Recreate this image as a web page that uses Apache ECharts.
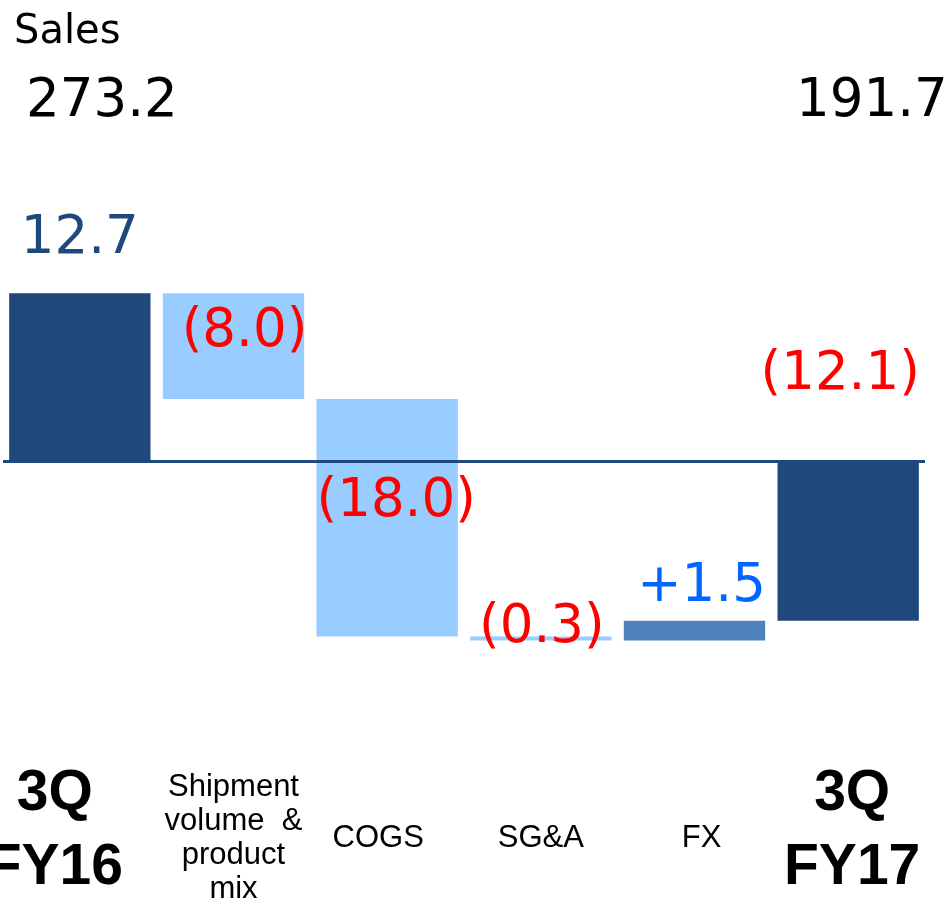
<!DOCTYPE html>
<html>
<head>
<meta charset="utf-8">
<script src="https://cdn.jsdelivr.net/npm/echarts@6/dist/echarts.min.js"></script>
<style>
  html, body { margin: 0; padding: 0; background: #fff; }
  #chart { width: 951px; height: 905px; }
</style>
</head>
<body>
<div id="chart"></div>
<script>
// waterfall: sales bridge 3Q FY16 -> 3Q FY17
var categories = ['3Q\nFY16', 'Shipment\nvolume  &\nproduct\nmix', 'COGS', 'SG&A', 'FX', '3Q\nFY17']
var deltas = [12.7, -8.0, -18.0, -0.3, 1.5, -12.1]
var isTotal = [true, false, false, false, false, true]
var barLabels = ['12.7', '(8.0)', '(18.0)', '(0.3)', '+1.5', '(12.1)']
var salesStart = '273.2'
var salesEnd = '191.7'

var navy = '#1f497d'
var light = '#99ccff'
var mid = '#4f81bd'

// bases for the invisible stack part
var bases = []
var running = 0
for (var i = 0; i < deltas.length; i++) {
  if (isTotal[i]) {
    bases.push(0)
    running = deltas[i]
  } else {
    bases.push(running)
    running = running + deltas[i]
  }
}

var barColors = [navy, light, light, light, mid, navy]
var labelColors = [navy, '#ff0000', '#ff0000', '#ff0000', '#0066ff', '#ff0000']
var labelOffsets = [[0, -138], [11, -14], [9, -16], [1, -10], [7, -43], [-8, -166]]
var axisStyles = ['totL', 'mid', 'midL', 'mid', 'midR', 'tot']

var visibleData = deltas.map(function (v, i) {
  return {
    value: v,
    itemStyle: { color: barColors[i] },
    label: {
      show: true,
      position: 'inside',
      offset: labelOffsets[i],
      formatter: barLabels[i],
      color: labelColors[i]
    }
  }
})

var chart = echarts.init(document.getElementById('chart'))
chart.setOption({
  animation: false,
  grid: { left: 3, right: 26, top: 197, bottom: 180, containLabel: false, outerBoundsMode: 'none' },
  xAxis: {
    type: 'category',
    data: categories,
    position: 'bottom',
    axisLine: { show: false, onZero: false },
    axisTick: { show: false },
    axisLabel: {
      margin: 113,
      verticalAlign: 'middle',
      interval: 0,
      hideOverlap: false,
      formatter: function (val, idx) {
        var st = axisStyles[idx]
        var text = val.split('\n').map(function (s) { return '{' + st + '|' + s + '}' }).join('\n')
        if (st === 'tot' || st === 'totL') text += '\n{gap| }'
        return text
      },
      rich: {
        tot: { fontFamily: 'Liberation Sans', fontWeight: 'bold', fontSize: 57, lineHeight: 74, color: '#000', align: 'center', padding: [0, 0, 0, 8] },
        totL: { fontFamily: 'Liberation Sans', fontWeight: 'bold', fontSize: 57, lineHeight: 74, color: '#000', align: 'center', padding: [0, 50, 0, 0] },
        gap: { fontSize: 10, lineHeight: 14 },
        mid: { fontFamily: 'Liberation Sans', fontSize: 31, lineHeight: 34, color: '#000', align: 'center' },
        midL: { fontFamily: 'Liberation Sans', fontSize: 31, lineHeight: 34, color: '#000', align: 'center', padding: [0, 18, 0, 0] },
        midR: { fontFamily: 'Liberation Sans', fontSize: 31, lineHeight: 34, color: '#000', align: 'center', padding: [0, 0, 0, 14] }
      }
    }
  },
  yAxis: {
    type: 'value',
    min: -20,
    max: 20,
    show: false,
    splitLine: { show: false }
  },
  graphic: [
    { type: 'text', left: 14, top: 13, style: { text: 'Sales', font: '40px "DejaVu Sans"', fill: '#000' } },
    { type: 'text', left: 26, top: 76, style: { text: salesStart, font: '53px "DejaVu Sans"', fill: '#000' } },
    { type: 'text', left: 796, top: 76, style: { text: salesEnd, font: '53px "DejaVu Sans"', fill: '#000' } }
  ],
  series: [
    {
      type: 'bar',
      stack: 'wf',
      stackStrategy: 'all',
      barWidth: '92%',
      itemStyle: { color: 'transparent' },
      data: bases,
      silent: true
    },
    {
      type: 'bar',
      stack: 'wf',
      stackStrategy: 'all',
      barWidth: '92%',
      label: {
        fontFamily: 'DejaVu Sans',
        fontSize: 53
      },
      data: visibleData,
      markLine: {
        silent: true,
        symbol: 'none',
        z: 10,
        label: { show: false },
        lineStyle: { color: navy, width: 3, type: 'solid' },
        data: [{ yAxis: 0 }]
      }
    }
  ]
})
</script>
</body>
</html>
